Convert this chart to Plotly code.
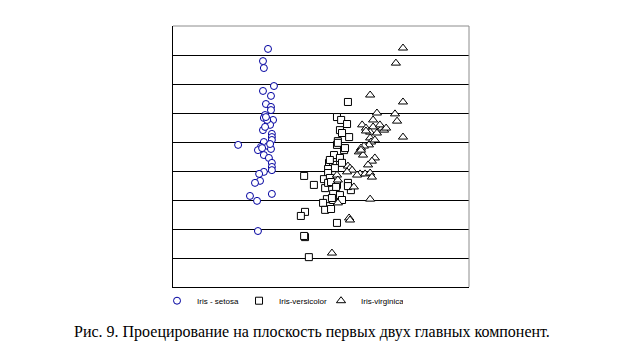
import plotly.graph_objects as go

# Iris - setosa (arbitrary projection units)
setosa_x = [3.21, 3.04, 3.07, 3.41, 3.04, 3.31, 3.14, 3.31, 3.31, 3.11, 3.07, 3.38, 3.21, 3.28,
            3.04, 3.11, 3.34, 3.34, 3.34, 3.07, 2.20, 3.21, 2.97, 2.87, 3.31, 3.07, 3.24, 3.34,
            3.34, 3.34, 3.07, 2.91, 2.94, 2.77, 2.60, 2.84, 3.34, 2.87, 3.18, 3.14, 3.28, 3.01]
setosa_y = [8.21, 7.79, 7.55, 6.93, 6.76, 6.59, 6.31, 6.21, 6.10, 5.93, 5.83, 5.76, 5.66, 5.59,
            5.41, 5.52, 5.28, 5.17, 5.07, 5.00, 4.90, 4.86, 4.83, 4.72, 4.76, 4.55, 4.45, 4.28,
            4.14, 4.03, 3.97, 3.90, 3.66, 3.59, 3.14, 2.97, 3.21, 1.93, 5.76, 5.86, 4.93, 4.79]

# Iris-versicolor
versicolor_x = [5.91, 5.54, 5.68, 5.88, 5.64, 5.71, 5.95, 5.57, 5.54, 5.78, 5.44, 5.64, 5.27, 5.41,
                5.71, 5.24, 5.47, 4.43, 5.24, 5.10, 5.30, 4.76, 5.14, 5.24, 5.54, 5.91, 6.01, 5.41,
                5.64, 5.20, 5.07, 5.41, 5.71, 5.14, 5.34, 4.46, 4.32, 5.54, 4.46, 4.43, 4.59, 5.57,
                5.81, 5.34, 5.51, 5.37, 5.91, 5.30]
versicolor_y = [6.38, 5.86, 5.76, 5.62, 5.41, 5.31, 5.17, 5.03, 4.90, 4.72, 4.55, 4.45, 4.28, 4.21,
                4.28, 4.07, 4.10, 3.83, 3.93, 3.72, 3.76, 3.52, 3.41, 3.59, 3.52, 3.59, 3.34, 3.21,
                3.17, 3.03, 2.90, 3.00, 3.00, 2.66, 2.69, 2.59, 2.45, 2.21, 1.72, 1.76, 1.03, 4.97,
                4.79, 3.62, 3.45, 3.07, 3.48, 4.38]

# Iris-virginica
virginica_x = [7.77, 7.53, 6.66, 7.77, 6.89, 7.50, 7.57, 6.76, 6.39, 6.52, 6.76, 7.06, 7.13, 6.66,
               6.89, 7.77, 6.66, 6.69, 6.62, 6.45, 6.35, 6.28, 6.42, 6.82, 6.72, 5.91, 5.98, 6.05,
               5.88, 6.32, 6.49, 6.66, 6.72, 5.54, 5.57, 6.11, 5.57, 6.66, 5.95, 5.98, 5.37, 6.52,
               6.35, 6.22, 6.59, 6.99, 6.82, 7.20]
virginica_y = [8.24, 7.72, 6.62, 6.38, 6.00, 5.97, 5.72, 5.76, 5.59, 5.48, 5.52, 5.48, 5.41, 5.34,
               5.31, 5.17, 5.14, 5.00, 4.90, 4.86, 4.79, 4.66, 4.55, 4.45, 4.34, 4.17, 4.10, 4.03,
               3.97, 3.90, 3.90, 3.93, 3.79, 3.86, 3.69, 3.45, 2.90, 3.03, 2.38, 2.31, 1.17, 5.38,
               4.72, 3.86, 4.21, 5.59, 5.07, 5.48]

series_names = ["Iris - setosa", "Iris-versicolor", "Iris-virginica"]
caption = "Рис. 9. Проецирование на плоскость первых двух главных компонент."

fig = go.Figure()
fig.add_trace(go.Scatter(x=setosa_x, y=setosa_y, mode="markers", name=series_names[0],
                         marker=dict(symbol="circle", size=7, color="white",
                                     line=dict(color="#0000a0", width=1))))
fig.add_trace(go.Scatter(x=versicolor_x, y=versicolor_y, mode="markers", name=series_names[1],
                         marker=dict(symbol="square", size=7, color="white",
                                     line=dict(color="black", width=1))))
fig.add_trace(go.Scatter(x=virginica_x, y=virginica_y, mode="markers", name=series_names[2],
                         marker=dict(symbol="triangle-up", size=8, color="white",
                                     line=dict(color="black", width=1))))

# the page body adds an 8px offset, so the figure is 8px smaller than the window
fig.update_layout(
    width=625, height=351,
    margin=dict(l=165, r=164, t=18, b=72),
    paper_bgcolor="white", plot_bgcolor="white",
    showlegend=True,
    legend=dict(orientation="h", x=-0.054, y=0.003, xanchor="left", yanchor="top",
                font=dict(family="Liberation Sans", size=8, color="black"),
                itemwidth=30, entrywidth=37, entrywidthmode="pixels",
                tracegroupgap=0, bgcolor="rgba(0,0,0,0)"),
    xaxis=dict(range=[0, 10], showgrid=False, zeroline=False, showticklabels=False,
               ticks="", showline=True, linecolor="black", linewidth=1),
    yaxis=dict(range=[0, 9], tickvals=[1, 2, 3, 4, 5, 6, 7, 8], showgrid=True,
               gridcolor="black", gridwidth=1, zeroline=False, showticklabels=False,
               ticks="", showline=True, linecolor="black", linewidth=1),
    shapes=[
        dict(type="line", xref="x domain", yref="y domain", x0=0, x1=1, y0=1, y1=1,
             line=dict(color="#8c8c8c", width=1)),
        dict(type="line", xref="x domain", yref="y domain", x0=1, x1=1, y0=0, y1=1,
             line=dict(color="#8c8c8c", width=1)),
    ],
    annotations=[dict(text=caption, xref="paper", yref="paper", x=0.47, y=-0.172,
                      xanchor="center", yanchor="middle", showarrow=False,
                      font=dict(family="Liberation Serif", size=16, color="black"))],
)

fig.write_html("out.html")
